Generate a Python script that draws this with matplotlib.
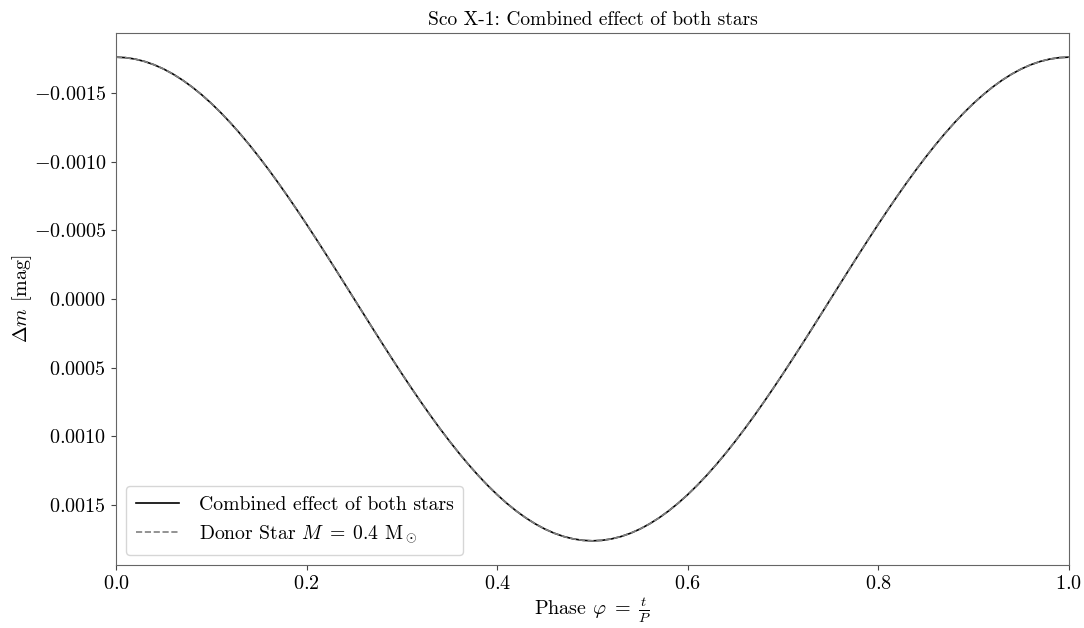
import matplotlib
matplotlib.use("Agg")
import matplotlib.pyplot as plt
from matplotlib.ticker import FuncFormatter, MultipleLocator

plt.rcParams["font.family"] = "serif"
plt.rcParams["font.serif"] = ["cmr10", "DejaVu Serif"]
plt.rcParams["mathtext.fontset"] = "cm"
plt.rcParams["axes.formatter.use_mathtext"] = True
plt.rcParams["axes.unicode_minus"] = True

# Orbital phase samples
phase = [0.00, 0.01, 0.02, 0.03, 0.04, 0.05, 0.06, 0.07, 0.08, 0.09,
         0.10, 0.11, 0.12, 0.13, 0.14, 0.15, 0.16, 0.17, 0.18, 0.19,
         0.20, 0.21, 0.22, 0.23, 0.24, 0.25, 0.26, 0.27, 0.28, 0.29,
         0.30, 0.31, 0.32, 0.33, 0.34, 0.35, 0.36, 0.37, 0.38, 0.39,
         0.40, 0.41, 0.42, 0.43, 0.44, 0.45, 0.46, 0.47, 0.48, 0.49,
         0.50, 0.51, 0.52, 0.53, 0.54, 0.55, 0.56, 0.57, 0.58, 0.59,
         0.60, 0.61, 0.62, 0.63, 0.64, 0.65, 0.66, 0.67, 0.68, 0.69,
         0.70, 0.71, 0.72, 0.73, 0.74, 0.75, 0.76, 0.77, 0.78, 0.79,
         0.80, 0.81, 0.82, 0.83, 0.84, 0.85, 0.86, 0.87, 0.88, 0.89,
         0.90, 0.91, 0.92, 0.93, 0.94, 0.95, 0.96, 0.97, 0.98, 0.99,
         1.00]

# Magnitude change of the donor star [mag]
donor_dm = [-0.0017600, -0.0017565, -0.0017461, -0.0017288, -0.0017047,
            -0.0016739, -0.0016364, -0.0015925, -0.0015423, -0.0014860,
            -0.0014239, -0.0013561, -0.0012830, -0.0012048, -0.0011219,
            -0.0010345, -0.0009431, -0.0008479, -0.0007494, -0.0006479,
            -0.0005439, -0.0004377, -0.0003298, -0.0002206, -0.0001105,
            0.0000000, 0.0001105, 0.0002206, 0.0003298, 0.0004377,
            0.0005439, 0.0006479, 0.0007494, 0.0008479, 0.0009431,
            0.0010345, 0.0011219, 0.0012048, 0.0012830, 0.0013561,
            0.0014239, 0.0014860, 0.0015423, 0.0015925, 0.0016364,
            0.0016739, 0.0017047, 0.0017288, 0.0017461, 0.0017565,
            0.0017600,
            0.0017565, 0.0017461, 0.0017288, 0.0017047, 0.0016739,
            0.0016364, 0.0015925, 0.0015423, 0.0014860, 0.0014239,
            0.0013561, 0.0012830, 0.0012048, 0.0011219, 0.0010345,
            0.0009431, 0.0008479, 0.0007494, 0.0006479, 0.0005439,
            0.0004377, 0.0003298, 0.0002206, 0.0001105, 0.0000000,
            -0.0001105, -0.0002206, -0.0003298, -0.0004377, -0.0005439,
            -0.0006479, -0.0007494, -0.0008479, -0.0009431, -0.0010345,
            -0.0011219, -0.0012048, -0.0012830, -0.0013561, -0.0014239,
            -0.0014860, -0.0015423, -0.0015925, -0.0016364, -0.0016739,
            -0.0017047, -0.0017288, -0.0017461, -0.0017565, -0.0017600]

# Combined effect (the compact companion adds nothing visible)
combined_dm = list(donor_dm)

fig = plt.figure(figsize=(10.84, 6.28), dpi=100)
ax = fig.add_axes([0.107, 0.1003, 0.879, 0.8472])

ax.plot(phase, combined_dm, color="black", lw=1.2, label="Combined effect of both stars")
ax.plot(phase, donor_dm, color="gray", lw=1.2, ls="--",
        label=r"Donor Star $M\;=\;0.4$ M$_\odot$")

ax.set_xlim(0, 1)
ax.margins(y=0.05)
ax.invert_yaxis()
ax.xaxis.set_major_locator(MultipleLocator(0.2))
ax.yaxis.set_major_locator(MultipleLocator(0.0005))
ax.xaxis.set_major_formatter(FuncFormatter(lambda v, p: f"${v:.1f}$"))
ax.yaxis.set_major_formatter(
    FuncFormatter(lambda v, p: f"${0.0 if abs(v) < 1e-12 else v:.4f}$"))
ax.tick_params(labelsize=14.5, colors="#444444", labelcolor="black")
for s in ax.spines.values():
    s.set_color("#666666")

ax.set_title("Sco X-1: Combined effect of both stars", fontsize=14)
ax.set_xlabel(r"Phase $\varphi\;=\;\frac{t}{P}$", fontsize=14.5, labelpad=2)
ax.set_ylabel(r"$\Delta m$ [mag]", fontsize=14.5, labelpad=0)
ax.legend(loc="lower left", fontsize=14.2, handlelength=2.2,
          borderpad=0.5, handletextpad=1.0)

fig.savefig("out.png", dpi=100)
